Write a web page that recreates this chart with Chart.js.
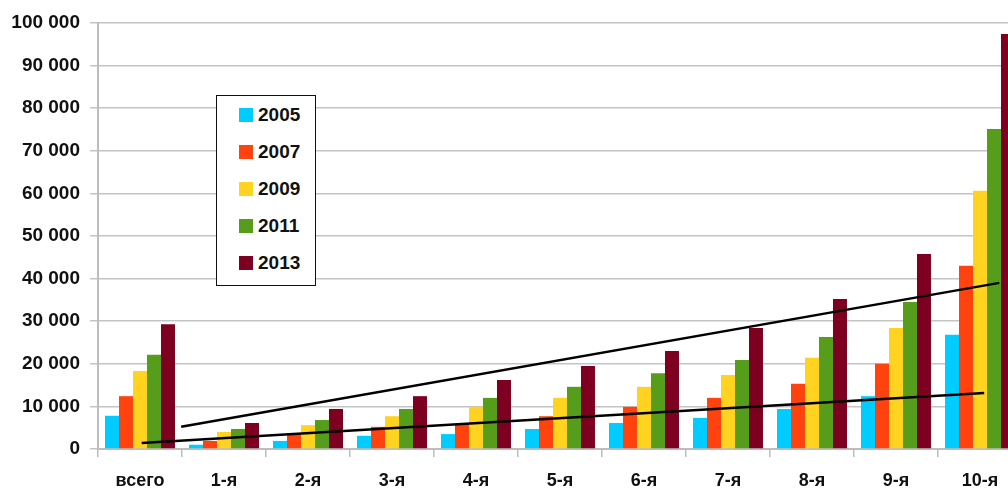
<!DOCTYPE html>
<html>
<head>
<meta charset="utf-8">
<script src="https://cdn.jsdelivr.net/npm/chart.js@4"></script>
<style>
  html, body { margin: 0; padding: 0; overflow: hidden; background: #fff; }
  #wrap { position: relative; width: 1030px; height: 491px; }
  #legend {
    position: absolute; left: 216px; top: 95px; width: 98px; height: 189px;
    border: 1.5px solid #111; background: #fff;
    font: bold 19px "Liberation Sans", Arial, sans-serif; color: #111;
  }
  #legend .item { height: 37px; line-height: 37px; padding-left: 22px; white-space: nowrap; }
  #legend .box { display: inline-block; width: 14px; height: 14px; margin-right: 5px; vertical-align: -1px; }
</style>
</head>
<body>
<div id="wrap">
  <canvas id="chart" width="1030" height="491"></canvas>
  <div id="legend"></div>
</div>
<script>
const categories = ["всего", "1-я", "2-я", "3-я", "4-я", "5-я", "6-я", "7-я", "8-я", "9-я", "10-я"];
const seriesNames = ["2005", "2007", "2009", "2011", "2013"];
const seriesColors = ["#00CCFF", "#FF420E", "#FFD320", "#579D1C", "#7E0021"];

const v2005 = [7800, 1000, 1900, 3100, 3500, 4700, 6100, 7300, 9400, 12400, 26800];
const v2007 = [12400, 1900, 3600, 5200, 5900, 7700, 9900, 12000, 15300, 20000, 43000];
const v2009 = [18300, 4000, 5600, 7700, 9900, 12000, 14600, 17400, 21400, 28400, 60600];
const v2011 = [22100, 4700, 6800, 9400, 12000, 14600, 17800, 20900, 26300, 34500, 75100];
const v2013 = [29300, 6100, 9400, 12400, 16200, 19500, 23000, 28400, 35200, 45800, 97400];
const seriesValues = [v2005, v2007, v2009, v2011, v2013];

// trend lines, x given in category index units (fractional)
const upperTrendX = [0.49, 10.23];
const upperTrendY = [5200, 39000];
const lowerTrendX = [0.02, 10.05];
const lowerTrendY = [1400, 13150];

const fontName = '"Liberation Sans", Arial, sans-serif';

const datasets = seriesNames.map((name, i) => ({
  type: "bar",
  label: name,
  data: seriesValues[i],
  backgroundColor: seriesColors[i],
  borderWidth: 0,
  order: 1
}));

// parsing off so the fractional x goes straight to the category scale
function trend(xs, ys, label) {
  return {
    type: "line",
    label: label,
    parsing: false,
    data: xs.map((x, i) => ({ x: x, y: ys[i] })),
    borderColor: "#000",
    borderWidth: 2.5,
    pointRadius: 0,
    fill: false,
    order: 0
  };
}
datasets.push(trend(upperTrendX, upperTrendY, "upper"));
datasets.push(trend(lowerTrendX, lowerTrendY, "lower"));

new Chart(document.getElementById("chart"), {
  type: "bar",
  data: { labels: categories, datasets: datasets },
  options: {
    responsive: false,
    animation: false,
    devicePixelRatio: 1,
    barPercentage: 1,
    categoryPercentage: 0.833,
    layout: { padding: { top: 23, right: 8, bottom: 0, left: 0 } },
    plugins: { legend: { display: false }, tooltip: { enabled: false } },
    scales: {
      x: {
        type: "category",
        offset: true,
        grid: { offset: true, drawOnChartArea: false, drawTicks: true, tickLength: 8, color: "#bdbdbd", lineWidth: 1.5 },
        border: { color: "#bdbdbd", width: 2 },
        ticks: { color: "#111", padding: 13, maxRotation: 0, font: { family: fontName, size: 18, weight: "bold" } },
        afterFit: (s) => { s.height = 42; }
      },
      y: {
        min: 0,
        max: 100000,
        ticks: {
          stepSize: 10000,
          color: "#111",
          padding: 10,
          font: { family: fontName, size: 19, weight: "bold" },
          callback: (v) => String(v).replace(/\B(?=(\d{3})+(?!\d))/g, " ")
        },
        grid: { color: "#c4c4c4", lineWidth: 1.5, tickLength: 8, drawTicks: true },
        border: { color: "#bdbdbd", width: 2 },
        afterFit: (s) => { s.width = 98; }
      }
    }
  }
});

// legend box
const legendEl = document.getElementById("legend");
seriesNames.forEach((name, i) => {
  const item = document.createElement("div");
  item.className = "item";
  item.innerHTML = `<span class="box" style="background:${seriesColors[i]}"></span>${name}`;
  legendEl.appendChild(item);
});
</script>
</body>
</html>
